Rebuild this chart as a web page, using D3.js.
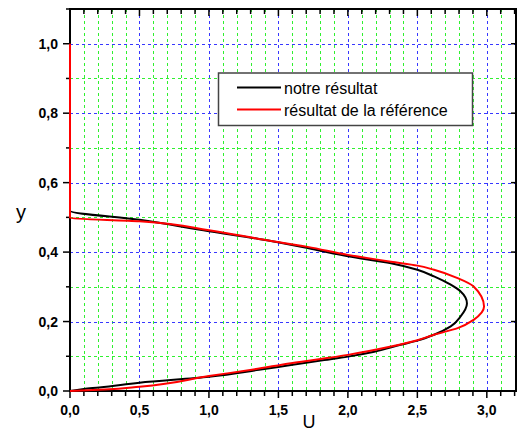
<!DOCTYPE html>
<html>
<head>
<meta charset="utf-8">
<script src="https://cdn.jsdelivr.net/npm/d3@7"></script>
<style>
  body { margin: 0; background: #fff; }
  svg { display: block; }
</style>
</head>
<body>
<div id="chart"></div>
<script>
// profiles U(y)
const uOurs = [0, 0.1, 0.21, 0.5, 1.0, 1.36, 1.59, 1.83, 2.0, 2.19, 2.38, 2.5, 2.62, 2.74, 2.81, 2.857, 2.81, 2.74, 2.62, 2.5, 2.31, 2.0, 1.71, 1.36, 1.0, 0.5, 0, 0];
const yOurs = [0, 0.006, 0.01, 0.024, 0.041, 0.061, 0.075, 0.089, 0.099, 0.113, 0.133, 0.145, 0.162, 0.186, 0.214, 0.252, 0.287, 0.306, 0.33, 0.349, 0.368, 0.388, 0.412, 0.438, 0.46, 0.493, 0.519, 0.537];

const uRef = [0, 0.25, 0.5, 1.0, 1.32, 1.59, 2.0, 2.31, 2.5, 2.62, 2.79, 2.905, 2.98, 2.905, 2.79, 2.62, 2.5, 2.31, 2.0, 1.71, 1.36, 1.0, 0.5, 0, 0];
const yRef = [0, 0.004, 0.012, 0.043, 0.062, 0.08, 0.104, 0.128, 0.146, 0.162, 0.181, 0.205, 0.243, 0.301, 0.325, 0.349, 0.361, 0.372, 0.392, 0.415, 0.438, 0.463, 0.489, 0.498, 1.0];

const xTickLabels = ['0,0', '0,5', '1,0', '1,5', '2,0', '2,5', '3,0'];
const yTickLabels = ['0,0', '0,2', '0,4', '0,6', '0,8', '1,0'];
const legendNames = ['notre résultat', 'résultat de la référence'];
const legendColors = ['#000000', '#ff0000'];

const W = 518, H = 434;
const pLeft = 70, pRight = 516, pTop = 9, pBottom = 391;

const svg = d3.select('#chart').append('svg')
    .attr('width', W)
    .attr('height', H);

const x = d3.scaleLinear().domain([0, 3.21]).range([pLeft, pRight]);
const y = d3.scaleLinear().domain([0, 1.1]).range([pBottom, pTop]);

const xMinor = d3.range(1, 33).map(i => i / 10).filter(v => v <= 3.21);
const yMinor = d3.range(1, 12).map(i => i / 10);
const isMajorX = v => Math.abs(v * 2 - Math.round(v * 2)) < 1e-6;
const isMajorY = v => Math.abs(v * 5 - Math.round(v * 5)) < 1e-6;
const px = v => Math.round(v) + 0.5;

// grid
const grid = svg.append('g').attr('shape-rendering', 'crispEdges');
grid.selectAll('.gx').data(xMinor).enter().append('line')
    .attr('x1', d => px(x(d))).attr('x2', d => px(x(d)))
    .attr('y1', pTop).attr('y2', pBottom)
    .style('stroke', d => isMajorX(d) ? '#3838ff' : '#30f030')
    .style('stroke-width', 1)
    .style('stroke-dasharray', '3,3');
grid.selectAll('.gy').data(yMinor).enter().append('line')
    .attr('y1', d => px(y(d))).attr('y2', d => px(y(d)))
    .attr('x1', pLeft).attr('x2', pRight)
    .style('stroke', d => isMajorY(d) ? '#3838ff' : '#30f030')
    .style('stroke-width', 1)
    .style('stroke-dasharray', '3,3');

// ticks
const ticks = svg.append('g').style('stroke', '#000');
const xAll = [0].concat(xMinor);
ticks.selectAll('.tb').data(xAll).enter().append('line')
    .attr('x1', d => x(d)).attr('x2', d => x(d))
    .attr('y1', pBottom).attr('y2', d => pBottom + (isMajorX(d) ? 7 : 5))
    .style('stroke-width', 1.5);
ticks.selectAll('.tt').data(xAll).enter().append('line')
    .attr('x1', d => x(d)).attr('x2', d => x(d))
    .attr('y1', pTop).attr('y2', d => pTop + (isMajorX(d) ? 7 : 5))
    .style('stroke-width', 1.5);
const yAll = [0].concat(yMinor);
ticks.selectAll('.tl').data(yAll).enter().append('line')
    .attr('y1', d => y(d)).attr('y2', d => y(d))
    .attr('x1', pLeft).attr('x2', d => pLeft - (isMajorY(d) ? 7 : 4))
    .style('stroke-width', 1.5);
ticks.selectAll('.tr').data(yAll.filter(isMajorY)).enter().append('line')
    .attr('y1', d => y(d)).attr('y2', d => y(d))
    .attr('x1', pRight).attr('x2', pRight - 5)
    .style('stroke-width', 1.5);

// frame
svg.append('rect')
    .attr('x', pLeft).attr('y', pTop)
    .attr('width', pRight - pLeft).attr('height', pBottom - pTop)
    .style('fill', 'none')
    .style('stroke', '#000')
    .style('stroke-width', 2);

// curves (drawn over the frame like the original)
const line = d3.line()
    .x(d => x(d[0]))
    .y(d => y(d[1]))
    .curve(d3.curveMonotoneY);

svg.append('path')
    .datum(uOurs.map((u, i) => [u, yOurs[i]]))
    .attr('d', line)
    .style('fill', 'none')
    .style('stroke', '#000')
    .style('stroke-width', 2);

svg.append('path')
    .datum(uRef.map((u, i) => [u, yRef[i]]))
    .attr('d', line)
    .style('fill', 'none')
    .style('stroke', '#ff0000')
    .style('stroke-width', 2);

// tick labels
svg.selectAll('.xl').data(xTickLabels).enter().append('text')
    .attr('x', (d, i) => x(i * 0.5))
    .attr('y', 415)
    .attr('text-anchor', 'middle')
    .style('font-family', 'Liberation Sans, Arial, sans-serif')
    .style('font-weight', 'bold')
    .style('font-size', '14px')
    .text(d => d);
svg.selectAll('.yl').data(yTickLabels).enter().append('text')
    .attr('x', 58)
    .attr('y', (d, i) => y(i * 0.2) + 5)
    .attr('text-anchor', 'end')
    .style('font-family', 'Liberation Sans, Arial, sans-serif')
    .style('font-weight', 'bold')
    .style('font-size', '14px')
    .text(d => d);

// axis titles
svg.append('text')
    .attr('x', 309).attr('y', 428)
    .attr('text-anchor', 'middle')
    .style('font-family', 'Liberation Sans, Arial, sans-serif')
    .style('font-size', '18px')
    .text('U');
svg.append('text')
    .attr('x', 21).attr('y', 219)
    .attr('text-anchor', 'middle')
    .style('font-family', 'Liberation Sans, Arial, sans-serif')
    .style('font-size', '20px')
    .text('y');

// legend
const lg = svg.append('g');
lg.append('rect')
    .attr('x', 218.5).attr('y', 73)
    .attr('width', 254).attr('height', 52.5)
    .style('fill', '#fff')
    .style('stroke', '#444')
    .style('stroke-width', 1.5);
legendNames.forEach((name, i) => {
    const cy = 87.5 + i * 22;
    lg.append('line')
        .attr('x1', 237).attr('x2', 281)
        .attr('y1', cy).attr('y2', cy)
        .style('stroke', legendColors[i])
        .style('stroke-width', 2);
    lg.append('text')
        .attr('x', 284).attr('y', cy + 6)
        .style('font-family', 'Liberation Sans, Arial, sans-serif')
        .style('font-size', '16px')
        .text(name);
});
</script>
</body>
</html>
